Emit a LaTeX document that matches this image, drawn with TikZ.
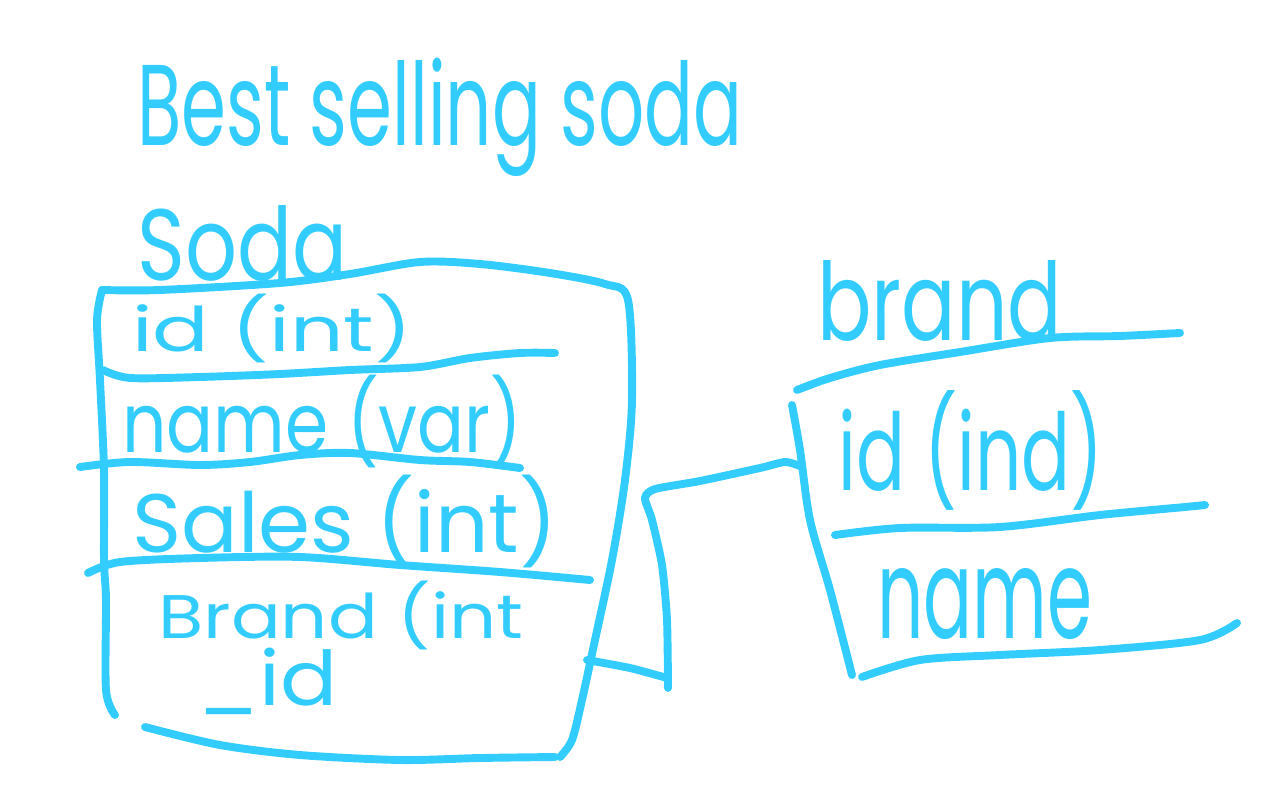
\documentclass[tikz,border=0pt]{standalone}
\usepackage{fontspec}
\setmainfont{Poppins}
\usepackage{graphicx}
\definecolor{ink}{HTML}{33CCFF}
\tikzset{
  pen/.style={draw=ink, line width=4.5pt, line cap=round, line join=round},
  lbl/.style={text=ink, inner sep=0pt, anchor=base west}
}
\newcommand{\fitto}[3]{\resizebox{#1}{#2}{#3}}
\begin{document}
\begin{tikzpicture}[x=0.02cm, y=-0.02cm]
\useasboundingbox (0,0) rectangle (1280,800);

% titles
\node[lbl] (title) at (137,146) {\fitto{12.1cm}{1.75cm}{Best selling soda}};
\node[lbl] (sodaT) at (137,280) {\fitto{4.2cm}{1.5cm}{Soda}};

% soda table outline
\draw[pen] plot[smooth, tension=0.5] coordinates {(102,290) (160,290) (280,283) (350,274) (420,262) (480,264) (550,273) (605,284) (628,300) (632,400) (625,480) (612,560) (595,640) (582,700) (572,740) (560,757)};
\draw[pen] plot[smooth, tension=0.5] coordinates {(555,757) (480,758) (400,760) (300,755) (220,745) (145,727)};
\draw[pen] plot[smooth, tension=0.5] coordinates {(102,290) (97,320) (100,380) (104,470) (104,560) (106,600) (106,690) (115,715)};
\draw[pen] plot[smooth, tension=0.5] coordinates {(103,370) (130,378) (200,377) (280,374) (350,370) (420,367) (470,358) (520,353) (555,353)};
\draw[pen] plot[smooth, tension=0.5] coordinates {(80,467) (130,462) (200,465) (250,462) (300,455) (350,453) (420,460) (470,462) (520,468)};
\draw[pen] plot[smooth, tension=0.5] coordinates {(88,573) (120,562) (200,558) (300,557) (400,565) (500,572) (590,580)};

% soda rows
\node[lbl] (sid) at (132,352) {\fitto{5.6cm}{1.15cm}{id (int)}};
\node[lbl] (sname) at (122,452) {\fitto{8.0cm}{1.55cm}{name (var)}};
\node[lbl] (ssales) at (132,552) {\fitto{8.5cm}{1.55cm}{Sales (int)}};
\node[lbl] (sbrand) at (158,638) {\fitto{7.3cm}{1.15cm}{Brand (int}};
\node[lbl] (sbid) at (197,705) {\fitto{2.8cm}{1.15cm}{\_id}};

% brand table
\node[lbl] (brandT) at (817,340) {\fitto{4.9cm}{1.6cm}{brand}};
\draw[pen] plot[smooth, tension=0.5] coordinates {(797,390) (830,378) (880,365) (960,352) (1050,338) (1120,336) (1180,333)};
\draw[pen] plot[smooth, tension=0.5] coordinates {(792,405) (800,450) (810,520) (830,590) (852,675)};
\draw[pen] plot[smooth, tension=0.5] coordinates {(835,535) (900,528) (1000,527) (1100,515) (1185,507) (1205,505)};
\draw[pen] plot[smooth, tension=0.5] coordinates {(862,677) (920,660) (1000,655) (1100,650) (1200,640) (1237,623)};
\node[lbl] (bid) at (838,490) {\fitto{5.3cm}{2.0cm}{id (ind)}};
\node[lbl] (bname) at (877,638) {\fitto{4.3cm}{1.4cm}{name}};

% connector
\coordinate (c1) at (587,660);
\coordinate (c2) at (800,466);
\draw[pen] plot[smooth, tension=0.4] coordinates {(c1) (630,668) (667,678)};
\draw[pen] plot[smooth, tension=0.4] coordinates {(668,688) (667,620) (662,565) (652,520) (645,498) (655,489) (700,481) (760,468) (785,462) (c2)};
\end{tikzpicture}
\end{document}
